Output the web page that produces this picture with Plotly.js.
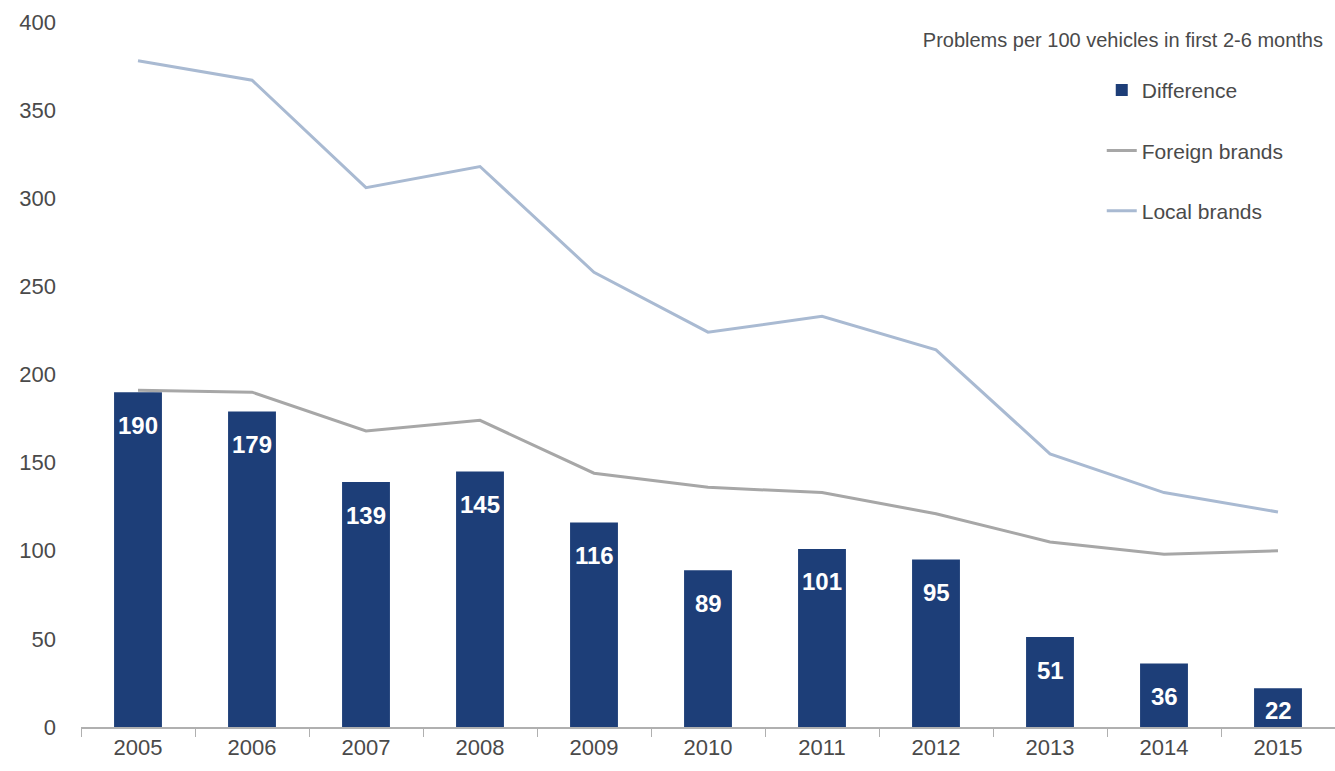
<!DOCTYPE html>
<html>
<head>
<meta charset="utf-8">
<script src="https://cdn.plot.ly/plotly-3.0.1.min.js"></script>
<style>
  html, body { margin: 0; padding: 0; background: #ffffff; }
  #chart { width: 1335px; height: 771px; }
</style>
</head>
<body>
<div id="chart"></div>
<script>
// ---- data ----
var years = ['2005','2006','2007','2008','2009','2010','2011','2012','2013','2014','2015'];
var difference = [190, 179, 139, 145, 116, 89, 101, 95, 51, 36, 22];
var foreignBrands = [191, 190, 168, 174, 144, 136, 133, 121, 105, 98, 100];
var localBrands = [378, 367, 306, 318, 258, 224, 233, 214, 155, 133, 122];
var yTicks = [0, 50, 100, 150, 200, 250, 300, 350, 400];
var chartTitle = 'Problems per 100 vehicles in first 2-6 months';

// ---- styling ----
var navy = '#1d3e78';
var grey = '#a7a7a7';
var steel = '#a9bad2';
var textGrey = '#4a4a4a';
var baseFont = 'Liberation Sans, Arial, sans-serif';
var narrowFont = 'Liberation Sans Narrow, Arial Narrow, Liberation Sans, sans-serif';

var plotTop = 22, plotBottom = 44, plotH = 771 - plotTop - plotBottom;
var yMax = 400;
var pxPerUnit = plotH / yMax;

var traces = [
  {
    type: 'bar', name: 'Difference', x: years, y: difference,
    marker: { color: navy, line: { width: 0 } },
    width: 0.42, legendgroup: 'a', hoverinfo: 'x+y'
  },
  {
    type: 'scatter', mode: 'lines', name: 'Foreign brands', x: years, y: foreignBrands,
    line: { color: grey, width: 3 }, legendgroup: 'b'
  },
  {
    type: 'scatter', mode: 'lines', name: 'Local brands', x: years, y: localBrands,
    line: { color: steel, width: 3 }, legendgroup: 'c'
  }
];

// category axis: annotations placed by category index
var annotations = years.map(function (yr, i) {
  var v = difference[i];
  var shift = Math.min(33, v * pxPerUnit - 17);
  return {
    x: i, y: v, xref: 'x', yref: 'y', text: '<b>' + String(v) + '</b>', showarrow: false,
    yanchor: 'middle', yshift: -shift,
    font: { family: narrowFont, size: 24, color: '#ffffff' }
  };
});

var layout = {
  width: 1335, height: 771,
  margin: { l: 81, r: 0, t: plotTop, b: plotBottom },
  paper_bgcolor: '#ffffff', plot_bgcolor: '#ffffff',
  font: { family: baseFont, color: textGrey },
  title: {
    text: chartTitle, xref: 'container', yref: 'container',
    x: 0.991, xanchor: 'right', y: 1 - 40 / 771, yanchor: 'middle',
    font: { family: baseFont, size: 20, color: textGrey }
  },
  showlegend: true,
  legend: {
    x: 0.814, xanchor: 'left', y: 0.932, yanchor: 'top',
    font: { family: baseFont, size: 21, color: textGrey },
    bgcolor: 'rgba(0,0,0,0)', traceorder: 'grouped', tracegroupgap: 30
  },
  bargap: 0.58,
  xaxis: {
    type: 'category', categoryorder: 'array', categoryarray: years,
    range: [-0.5, years.length - 0.5],
    showline: true, linecolor: '#b0b0b0', linewidth: 2,
    ticks: 'outside', tickson: 'boundaries', ticklen: 8, tickcolor: '#b0b0b0', tickwidth: 1,
    tickfont: { family: baseFont, size: 22, color: textGrey },
    showgrid: false, zeroline: false, fixedrange: true
  },
  yaxis: {
    range: [0, yMax], tickmode: 'array', tickvals: yTicks, ticktext: yTicks.map(String),
    showgrid: false, zeroline: false, showline: false, ticks: '',
    ticklabelstandoff: 24,
    tickfont: { family: baseFont, size: 22, color: textGrey }, fixedrange: true
  },
  annotations: annotations
};

Plotly.newPlot('chart', traces, layout, { displayModeBar: false, staticPlot: true });
</script>
</body>
</html>
